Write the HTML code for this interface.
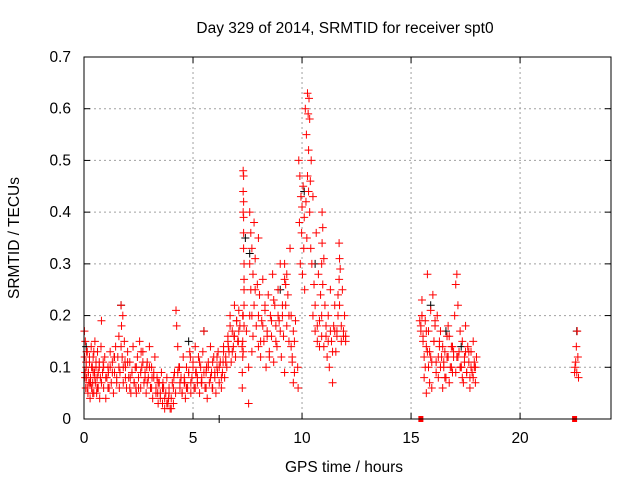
<!DOCTYPE html>
<html><head><meta charset="utf-8"><style>
body{margin:0;background:#fff;}
svg{display:block;font-family:"Liberation Sans",sans-serif;}
</style></head><body>
<svg id="chart" width="640" height="480">
<rect width="640" height="480" fill="#fff"/>
<text x="345" y="33" font-size="15.5" text-anchor="middle">Day 329 of 2014, SRMTID for receiver spt0</text>
<text x="344" y="472" font-size="15.5" text-anchor="middle">GPS time / hours</text>
<text transform="translate(19,238) rotate(-90)" font-size="15.5" text-anchor="middle">SRMTID / TECUs</text>
<g id="grid"></g><g id="ticks"></g><g id="marks"></g>
<rect x="84" y="57" width="527" height="362" fill="none" stroke="#000" stroke-width="1"/>
</svg>
<script>
const xTicks=[0,5,10,15,20];
const yTicks=[0,0.1,0.2,0.3,0.4,0.5,0.6,0.7];
const yTickLabels=["0","0.1","0.2","0.3","0.4","0.5","0.6","0.7"];
const times=[
0.02,0.03,0.05,0.06,0.08,0.1,0.12,0.15,0.18,0.2,0.22,0.25,0.28,0.3,0.33,0.35,0.38,0.4,0.42,0.45,0.48,0.5,0.52,0.55,0.58,0.6,0.62,0.65,0.7,0.72,0.75,0.78,0.8,0.85,0.9,0.95,1.0,1.05,1.1,1.15,1.2,1.25,1.3,1.35,1.4,1.45,1.5,1.55,1.6,1.65,1.7,1.72,1.75,1.78,1.8,1.85,1.9,1.95,2.0,2.05,2.1,2.15,2.2,2.25,2.3,2.35,2.4,2.45,2.5,2.55,2.6,2.65,2.7,2.75,2.8,2.85,2.9,2.95,3.0,3.05,3.1,3.15,3.2,3.25,3.3,3.35,3.4,3.45,3.5,3.55,3.6,3.65,3.7,3.75,3.8,3.85,3.9,3.95,4.0,4.05,4.1,4.15,4.2,4.22,4.25,4.3,4.35,4.4,4.45,4.5,4.55,4.6,4.65,4.7,4.75,4.8,4.85,4.9,4.95,5.0,5.05,5.1,5.15,5.2,5.25,5.3,5.35,5.4,5.45,5.5,5.55,5.6,5.65,5.7,5.75,5.8,5.85,5.9,5.95,6.0,6.05,6.1,6.15,6.2,6.25,6.3,6.35,6.4,6.45,6.5,6.55,6.6,6.65,6.7,6.75,6.8,6.85,6.9,6.95,7.0,7.05,7.1,7.15,
7.3,7.3,7.3,7.3,7.3,7.32,7.32,7.32,7.32,7.32,7.34,7.34,7.34,7.34,7.34,7.28,7.28,7.28,7.26,7.26,7.25,
7.55,7.55,7.6,7.6,7.65,7.65,7.7,7.7,7.75,7.75,7.8,7.8,7.85,7.9,7.95,8.0,8.0,8.05,8.1,8.15,8.2,8.25,8.3,8.35,8.4,8.45,8.5,8.55,8.6,8.65,8.7,8.75,8.8,8.85,8.9,8.95,9.0,9.05,9.1,9.15,9.2,9.2,9.2,9.25,9.25,9.3,9.3,9.35,9.4,9.45,9.5,9.55,9.6,9.65,9.7,
9.8,9.82,9.85,9.88,9.9,9.92,9.95,9.98,10.0,10.02,10.05,10.08,10.1,10.12,10.15,10.18,10.2,10.22,10.25,10.25,10.28,10.3,10.3,10.32,10.35,10.35,10.38,10.4,10.42,10.45,10.5,10.55,10.6,10.65,10.7,10.75,10.8,10.85,10.9,10.9,10.92,10.92,10.95,10.95,11.0,11.05,11.1,11.15,11.2,11.25,11.3,11.35,11.4,11.45,11.5,11.55,11.6,11.65,11.65,11.7,11.7,11.72,11.72,11.75,11.8,11.85,11.9,11.95,12.0,
15.4,15.45,15.5,15.5,15.55,15.6,15.6,15.65,15.7,15.7,15.75,15.8,15.8,15.85,15.9,15.95,16.0,16.05,16.1,16.15,16.2,16.25,16.3,16.35,16.4,16.45,16.5,16.55,16.6,16.65,16.7,16.75,16.8,16.85,16.9,16.95,17.0,17.05,17.1,17.15,17.2,17.25,17.3,17.35,17.4,17.45,17.5,17.55,17.6,17.65,17.7,17.75,17.8,17.85,17.9,17.95,18.0,
22.5,22.52,22.55,22.58,22.6,22.62,22.65,22.68];
const values=[
0.17,0.12,0.09,0.15,0.06,0.1,0.08,0.13,0.05,0.09,0.07,0.11,0.04,0.08,0.14,0.06,0.1,0.07,0.12,0.05,0.09,0.15,0.07,0.11,0.05,0.08,0.13,0.06,0.1,0.04,0.08,0.14,0.19,0.09,0.06,0.12,0.04,0.08,0.1,0.06,0.13,0.07,0.11,0.05,0.09,0.14,0.07,0.12,0.16,0.09,0.22,0.18,0.12,0.2,0.07,0.15,0.1,0.06,0.13,0.08,0.11,0.05,0.09,0.14,0.07,0.1,0.05,0.12,0.08,0.15,0.06,0.1,0.13,0.07,0.09,0.05,0.11,0.08,0.14,0.06,0.1,0.04,0.09,0.12,0.06,0.08,0.03,0.07,0.05,0.09,0.03,0.06,0.02,0.05,0.08,0.03,0.06,0.02,0.04,0.07,0.03,0.09,0.05,0.21,0.18,0.14,0.1,0.06,0.08,0.05,0.12,0.07,0.04,0.1,0.06,0.09,0.13,0.05,0.08,0.11,0.06,0.14,0.09,0.07,0.12,0.05,0.1,0.08,0.13,0.17,0.06,0.09,0.04,0.11,0.07,0.14,0.09,0.06,0.12,0.08,0.05,0.1,0.13,0.07,0.11,0.06,0.09,0.14,0.08,0.12,0.1,0.16,0.13,0.2,0.11,0.17,0.14,0.22,0.12,0.19,0.15,0.21,0.18,0.13,0.2,
0.48,0.44,0.4,0.36,0.33,0.47,0.42,0.39,0.3,0.27,0.25,0.22,0.18,0.15,0.12,0.2,0.09,0.06,0.14,0.03,0.1,
0.4,0.3,0.36,0.25,0.33,0.2,0.28,0.16,0.38,0.22,0.31,0.18,0.26,0.14,0.35,0.24,0.12,0.19,0.27,0.15,0.21,0.1,0.17,0.24,0.13,0.2,0.16,0.28,0.11,0.22,0.18,0.14,0.25,0.19,0.3,0.12,0.2,0.16,0.27,0.09,0.3,0.26,0.22,0.28,0.18,0.24,0.15,0.33,0.2,0.12,0.07,0.15,0.19,0.1,0.06,
0.5,0.38,0.47,0.3,0.43,0.36,0.41,0.28,0.45,0.33,0.39,0.25,0.6,0.42,0.55,0.35,0.63,0.47,0.59,0.52,0.44,0.62,0.4,0.58,0.46,0.33,0.5,0.3,0.43,0.26,0.22,0.36,0.18,0.28,0.14,0.24,0.3,0.2,0.4,0.34,0.37,0.26,0.31,0.22,0.16,0.12,0.2,0.1,0.25,0.15,0.07,0.18,0.22,0.13,0.17,0.24,0.2,0.34,0.27,0.31,0.22,0.29,0.18,0.25,0.16,0.2,0.15,0.19,0.17,
0.23,0.2,0.16,0.12,0.08,0.19,0.05,0.14,0.28,0.1,0.17,0.13,0.21,0.06,0.24,0.15,0.18,0.11,0.2,0.08,0.14,0.17,0.12,0.06,0.1,0.13,0.08,0.16,0.12,0.07,0.1,0.14,0.09,0.12,0.2,0.26,0.28,0.22,0.13,0.17,0.1,0.15,0.07,0.12,0.18,0.09,0.14,0.11,0.06,0.13,0.09,0.15,0.1,0.07,0.12,0.09,0.1,
0.11,0.14,0.09,0.17,0.12,0.08,0.15,0.1];
const extraTimes=[
0.05,0.1,0.15,0.2,0.25,0.3,0.35,0.4,0.45,0.5,0.55,0.6,0.65,0.7,0.8,0.9,1.0,1.1,1.2,1.3,1.4,1.5,1.6,1.7,1.8,1.9,2.0,2.1,2.2,2.3,2.4,2.5,2.6,2.7,2.8,2.9,3.0,3.1,3.2,3.3,3.4,3.5,3.6,3.7,3.8,3.9,4.0,4.1,4.3,4.4,4.5,4.6,4.7,4.8,4.9,5.0,5.1,5.2,5.3,5.4,5.5,5.6,5.7,5.8,5.9,6.0,6.1,6.2,6.3,6.4,6.5,6.6,6.7,6.8,6.9,7.0,7.1,
0.12,0.27,0.42,0.62,0.88,1.12,1.38,1.62,1.88,2.12,2.38,2.62,2.88,3.12,3.38,3.62,3.88,4.12,4.38,4.62,4.88,5.12,5.38,5.62,5.88,6.12,6.38,6.62,6.88,7.08,
7.45,7.6,7.7,7.85,8.0,8.1,8.2,8.3,8.4,8.5,8.6,8.7,8.8,8.9,9.0,9.1,9.4,9.5,9.55,9.6,9.65,
10.5,10.6,10.7,10.8,10.9,11.0,11.1,11.2,11.3,11.4,11.5,11.6,11.8,11.9,12.0,
15.45,15.55,15.65,15.75,15.85,15.95,16.05,16.15,16.25,16.35,16.45,16.55,16.65,16.75,16.85,16.95,17.05,17.15,17.25,17.35,17.45,17.55,17.65,17.75,17.85,17.95,
15.5,15.7,15.9,16.1,16.3,16.5,16.7,16.9,17.1,17.3,17.5,17.7,17.9];
const extraValues=[
0.08,0.11,0.06,0.09,0.12,0.07,0.1,0.05,0.13,0.08,0.1,0.06,0.09,0.11,0.07,0.1,0.08,0.06,0.1,0.09,0.12,0.08,0.1,0.14,0.1,0.08,0.11,0.06,0.09,0.07,0.1,0.06,0.09,0.11,0.08,0.07,0.1,0.06,0.08,0.05,0.07,0.04,0.06,0.04,0.03,0.05,0.02,0.06,0.09,0.07,0.05,0.08,0.06,0.09,0.07,0.1,0.06,0.08,0.11,0.07,0.09,0.06,0.1,0.08,0.11,0.09,0.12,0.1,0.08,0.13,0.11,0.15,0.18,0.13,0.16,0.19,0.17,
0.13,0.07,0.09,0.06,0.11,0.09,0.12,0.06,0.11,0.08,0.06,0.13,0.1,0.08,0.05,0.07,0.04,0.08,0.1,0.07,0.12,0.09,0.07,0.1,0.06,0.09,0.11,0.14,0.16,0.15,
0.17,0.2,0.13,0.25,0.2,0.15,0.18,0.22,0.16,0.12,0.19,0.23,0.15,0.2,0.17,0.22,0.2,0.14,0.11,0.17,0.09,
0.2,0.17,0.15,0.19,0.16,0.14,0.18,0.15,0.17,0.13,0.17,0.16,0.15,0.17,0.16,
0.18,0.15,0.1,0.13,0.07,0.11,0.15,0.09,0.12,0.1,0.14,0.08,0.12,0.16,0.1,0.13,0.09,0.12,0.1,0.08,0.11,0.09,0.13,0.1,0.08,0.1,
0.2,0.17,0.12,0.19,0.15,0.11,0.18,0.14,0.12,0.1,0.13,0.08,0.11];
const blackTimes=[0.1,1.7,4.8,5.5,6.2,7.4,7.6,9.0,10.1,10.6,15.9,16.6,17.3,22.6];
const blackValues=[0.14,0.22,0.15,0.17,0.0,0.35,0.32,0.25,0.44,0.3,0.22,0.17,0.14,0.17];
const zeroTimes=[15.45,22.5];
const xMin=0,xMax=24.17,yMin=0,yMax=0.7;
const L=84,R=611,T=57,B=419;
function xs(t){return L+(t-xMin)/(xMax-xMin)*(R-L);}
function ys(v){return B-(v-yMin)/(yMax-yMin)*(B-T);}
const NS="http://www.w3.org/2000/svg";
function mk(tag,attrs,parent){const e=document.createElementNS(NS,tag);for(const k in attrs)e.setAttribute(k,attrs[k]);parent.appendChild(e);return e;}
const grid=document.getElementById('grid'),ticks=document.getElementById('ticks'),marks=document.getElementById('marks');
xTicks.forEach(t=>{const x=xs(t);
 if(t>xMin){const g=mk('line',{x1:x,x2:x,y1:T,y2:B,stroke:'#a0a0a0','stroke-dasharray':'2,3'},grid);
 
 }
 mk('line',{x1:x,x2:x,y1:B,y2:B-6,stroke:'#000'},ticks);mk('line',{x1:x,x2:x,y1:T,y2:T+6,stroke:'#000'},ticks);
 const tx=mk('text',{x:x,y:B+24,'font-size':15.5,'text-anchor':'middle'},ticks);tx.textContent=t;
 
 });
yTicks.forEach((v,i)=>{const y=ys(v);
 if(v>yMin&&v<yMax){const g=mk('line',{x1:L,x2:R,y1:y,y2:y,stroke:'#a0a0a0','stroke-dasharray':'2,3'},grid);
 
 }
 mk('line',{x1:L,x2:L+6,y1:y,y2:y,stroke:'#000'},ticks);mk('line',{x1:R,x2:R-6,y1:y,y2:y,stroke:'#000'},ticks);
 const tx=mk('text',{x:L-13,y:y+5,'font-size':15.5,'text-anchor':'end'},ticks);tx.textContent=yTickLabels[i];
 
 });
function plus(t,v,c,name){const x=xs(t),y=ys(v);
 const p=mk('path',{d:`M${x-4},${y}h8M${x},${y-4}v8`,stroke:c,'stroke-width':1,fill:'none'},marks);
 
 }
blackTimes.forEach((t,i)=>plus(t,blackValues[i],'#000','black-point'));
times.forEach((t,i)=>plus(t,values[i],'#f00','srmtid-point'));
extraTimes.forEach((t,i)=>plus(t,extraValues[i],'#f00','srmtid-point'));
zeroTimes.forEach(t=>{const r=mk('rect',{x:xs(t)-2.5,y:B-3,width:5,height:6,fill:'#f00'},marks);
 
 });
</script>
</body></html>
